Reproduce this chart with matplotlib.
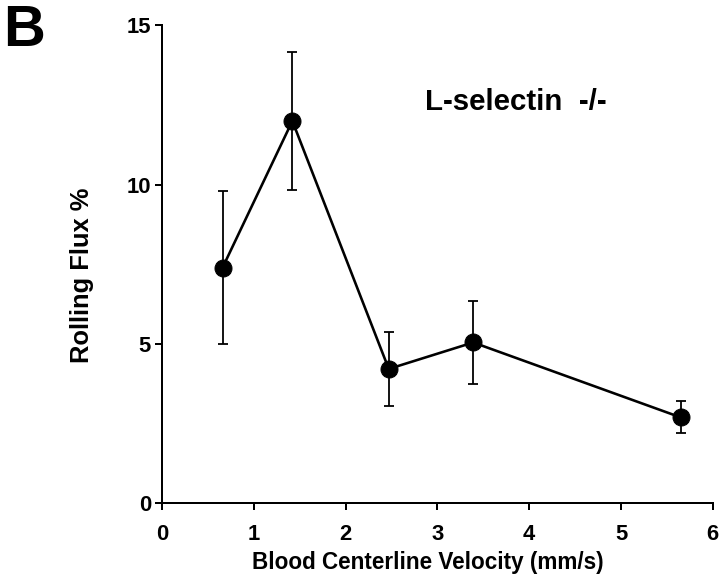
import matplotlib
matplotlib.use("Agg")
import matplotlib.pyplot as plt

velocity = [0.66, 1.42, 2.47, 3.39, 5.65]
rolling_flux = [7.4, 12.0, 4.22, 5.05, 2.7]
flux_err = [2.4, 2.17, 1.15, 1.3, 0.5]
x_ticks = [0, 1, 2, 3, 4, 5, 6]
y_ticks = [0, 5, 10, 15]

plt.rcParams['font.family'] = ['Liberation Sans', 'DejaVu Sans']
plt.rcParams['font.weight'] = 'bold'

fig = plt.figure(figsize=(10, 8), dpi=72)
ax = fig.add_axes([0.225, 0.126, 0.765, 0.830])

ax.errorbar(velocity, rolling_flux, yerr=flux_err, color='black', lw=2.6,
            marker='o', markersize=17, elinewidth=1.8, capsize=5, capthick=1.8,
            clip_on=False, zorder=3)

ax.set_xlim(0, 6)
ax.set_ylim(0, 15)
ax.set_xticks(x_ticks)
ax.set_yticks(y_ticks)
for s in ['top', 'right']:
    ax.spines[s].set_visible(False)
for s in ['left', 'bottom']:
    ax.spines[s].set_linewidth(2)
ax.tick_params(direction='out', length=7, width=2, labelsize=22)
ax.tick_params(axis='x', pad=14)
ax.tick_params(axis='y', pad=4)
for lbl in ax.get_xticklabels() + ax.get_yticklabels():
    lbl.set_fontweight('bold')

ax.set_xlabel('Blood Centerline Velocity (mm/s)', fontsize=22.5, fontweight='bold', labelpad=6)
ax.set_ylabel('Rolling Flux %', fontsize=25.5, fontweight='bold', labelpad=33)
ax.xaxis.label.set_x(0.482)
ax.yaxis.label.set_y(0.4775)

ax.text(2.86, 12.6, 'L-selectin  -/-', fontsize=29.5, fontweight='bold', va='center', ha='left')

fig.text(0.005, 0.993, 'B', fontsize=58, fontweight='bold', va='top', ha='left')

fig.savefig('out.png', dpi=72)
